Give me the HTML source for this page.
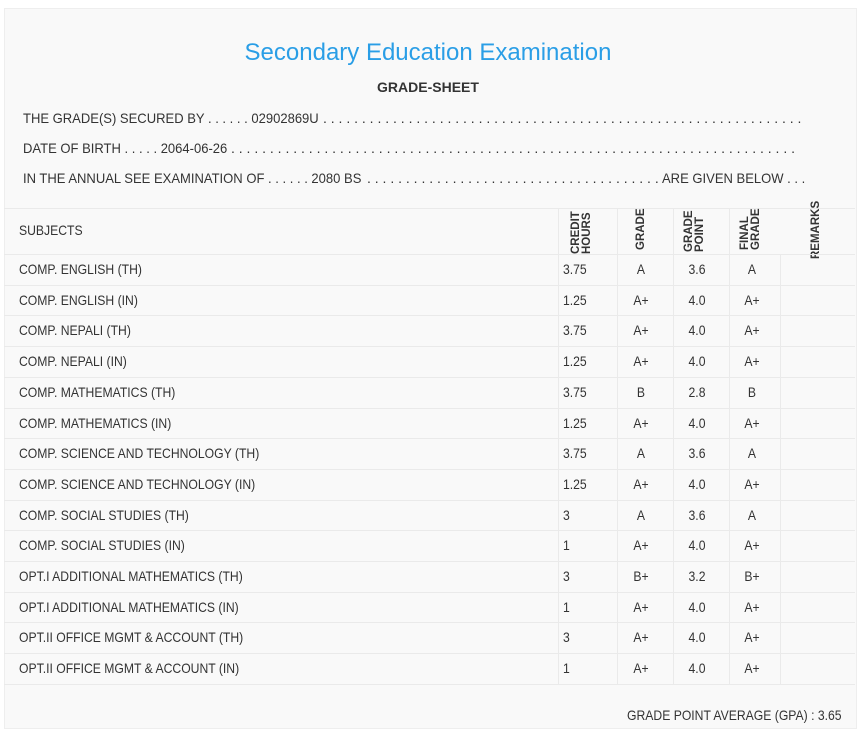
<!DOCTYPE html>
<html><head><style>
body{margin:0;width:865px;height:727px;background:#fff;font-family:"Liberation Sans",sans-serif;color:#333;position:relative;overflow:hidden}
.box{position:absolute;left:4px;top:8px;width:851px;height:719px;background:#f9f9f9;border:1px solid #eee}
.t{position:absolute;white-space:nowrap;font-size:14px;transform:scaleX(0.87);transform-origin:left top}
.t2{position:absolute;white-space:nowrap;font-size:14px;transform:scaleX(0.93);transform-origin:left top}
.d{position:absolute;white-space:nowrap;font-size:14px;overflow:hidden;height:18px}
.h{position:absolute;left:4px;width:851px;border-top:1px solid #eaeaea}
.v{position:absolute;width:0;border-left:1px solid #eaeaea}
.r{position:absolute;font-weight:bold;font-size:11.5px;line-height:11px;transform:rotate(-90deg);transform-origin:left top;white-space:nowrap;color:#333}
.c{position:absolute;text-align:center;font-size:14px;transform:scaleX(0.87)}
</style></head><body>
<div class="box"></div>
<div style="position:absolute;left:0;width:856px;text-align:center;top:39px;font-size:24px;color:#2a9ee6">Secondary Education Examination</div>
<div style="position:absolute;left:0;width:856px;text-align:center;top:79px;font-weight:bold;font-size:14px">GRADE-SHEET</div>
<div class="t2" style="left:23px;top:110px">THE GRADE(S) SECURED BY . . . . . . 02902869U</div>
<div class="d" style="left:323px;top:110px;width:482px">. . . . . . . . . . . . . . . . . . . . . . . . . . . . . . . . . . . . . . . . . . . . . . . . . . . . . . . . . . . . . . . . . . . . . . . . . . . . . .</div>
<div class="t2" style="left:23px;top:140px">DATE OF BIRTH . . . . . 2064-06-26</div>
<div class="d" style="left:231px;top:140px;width:564px">. . . . . . . . . . . . . . . . . . . . . . . . . . . . . . . . . . . . . . . . . . . . . . . . . . . . . . . . . . . . . . . . . . . . . . . . . . . . . . . . . . . .</div>
<div class="t2" style="left:23px;top:170px">IN THE ANNUAL SEE EXAMINATION OF . . . . . . 2080 BS</div>
<div class="d" style="left:367px;top:170px;width:292px">. . . . . . . . . . . . . . . . . . . . . . . . . . . . . . . . . . . . . . . . . . . . . . . . .</div>
<div class="t2" style="left:662px;top:170px">ARE GIVEN BELOW . . .</div>
<div class="h" style="top:208px"></div>
<div class="t" style="left:19px;top:222px">SUBJECTS</div>
<div class="r" style="left:571px;top:254px">CREDIT<br>HOURS</div>
<div class="r" style="left:636px;top:250px">GRADE</div>
<div class="r" style="left:684px;top:252px">GRADE<br>POINT</div>
<div class="r" style="left:740px;top:250px">FINAL<br>GRADE</div>
<div class="r" style="left:811px;top:259px">REMARKS</div>
<div class="v" style="left:558px;top:208px;height:476px"></div>
<div class="v" style="left:617px;top:208px;height:476px"></div>
<div class="v" style="left:673px;top:208px;height:476px"></div>
<div class="v" style="left:729px;top:208px;height:476px"></div>
<div class="v" style="left:780px;top:254px;height:430px"></div>
<div id="rows"></div>
<div class="t" style="left:627px;top:707px">GRADE POINT AVERAGE (GPA) : 3.65</div>
<script>
var d=[["COMP. ENGLISH (TH)","3.75","A","3.6","A"],["COMP. ENGLISH (IN)","1.25","A+","4.0","A+"],["COMP. NEPALI (TH)","3.75","A+","4.0","A+"],["COMP. NEPALI (IN)","1.25","A+","4.0","A+"],["COMP. MATHEMATICS (TH)","3.75","B","2.8","B"],["COMP. MATHEMATICS (IN)","1.25","A+","4.0","A+"],["COMP. SCIENCE AND TECHNOLOGY (TH)","3.75","A","3.6","A"],["COMP. SCIENCE AND TECHNOLOGY (IN)","1.25","A+","4.0","A+"],["COMP. SOCIAL STUDIES (TH)","3","A","3.6","A"],["COMP. SOCIAL STUDIES (IN)","1","A+","4.0","A+"],["OPT.I ADDITIONAL MATHEMATICS (TH)","3","B+","3.2","B+"],["OPT.I ADDITIONAL MATHEMATICS (IN)","1","A+","4.0","A+"],["OPT.II OFFICE MGMT & ACCOUNT (TH)","3","A+","4.0","A+"],["OPT.II OFFICE MGMT & ACCOUNT (IN)","1","A+","4.0","A+"]];
var h="";
for(var i=0;i<d.length;i++){var y=254+i*30.7;var ty=y+7;
h+='<div class="h" style="top:'+y+'px"></div>';
h+='<div class="t" style="left:19px;top:'+ty+'px">'+d[i][0].replace('&','&amp;')+'</div>';
h+='<div class="t" style="left:563px;top:'+ty+'px">'+d[i][1]+'</div>';
h+='<div class="c" style="left:617px;width:48px;top:'+ty+'px">'+d[i][2]+'</div>';
h+='<div class="c" style="left:673px;width:48px;top:'+ty+'px">'+d[i][3]+'</div>';
h+='<div class="c" style="left:729px;width:46px;top:'+ty+'px">'+d[i][4]+'</div>';}
h+='<div class="h" style="top:684px"></div>';
document.getElementById('rows').innerHTML=h;
</script>
</body></html>
